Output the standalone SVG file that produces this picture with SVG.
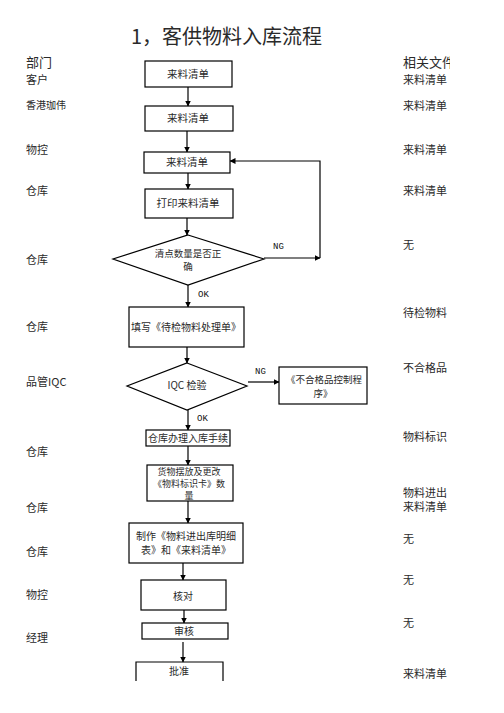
<svg xmlns="http://www.w3.org/2000/svg" width="504" height="713" viewBox="0 0 504 713">
<style>
text{font-family:"Noto Sans CJK SC","Liberation Serif",serif;fill:#2a2a2a;}
.lbl{font-size:11px;}
.hd{font-size:13px;}
.sm{font-size:10px;}
.nt{font-size:10.5px;text-anchor:middle;}
.tag{font-family:"Liberation Mono",monospace;font-size:9px;fill:#111;}
.box{fill:#fff;stroke:#000;stroke-width:1.2;}
.ln{fill:none;stroke:#000;stroke-width:1.2;}
</style>
<defs>
<marker id="ah" markerWidth="6" markerHeight="6" refX="5.5" refY="3" orient="auto" markerUnits="userSpaceOnUse">
<path d="M0,0 L6,3 L0,6 z" fill="#000"/>
</marker>
<clipPath id="rc"><rect x="395" y="40" width="55" height="660"/></clipPath>
</defs>
<rect width="504" height="713" fill="#fff"/>
<text x="131" y="44" style="font-size:20px">1，客供物料入库流程</text>
<g id="dept">
<text class="hd" x="26" y="67">部门</text>
<text class="lbl" x="26" y="84">客户</text>
<text class="sm" x="26" y="109">香港珈伟</text>
<text class="lbl" x="26" y="154">物控</text>
<text class="lbl" x="26" y="195">仓库</text>
<text class="lbl" x="26" y="264">仓库</text>
<text class="lbl" x="26" y="331">仓库</text>
<text class="lbl" x="26" y="386">品管IQC</text>
<text class="lbl" x="26" y="456">仓库</text>
<text class="lbl" x="26" y="512">仓库</text>
<text class="lbl" x="26" y="556">仓库</text>
<text class="lbl" x="26" y="599">物控</text>
<text class="lbl" x="26" y="642">经理</text>
</g>
<g id="docs" clip-path="url(#rc)">
<text class="hd" x="403" y="67">相关文件</text>
<text class="lbl" x="403" y="84">来料清单</text>
<text class="lbl" x="403" y="110">来料清单</text>
<text class="lbl" x="403" y="154">来料清单</text>
<text class="lbl" x="403" y="195">来料清单</text>
<text class="lbl" x="403" y="249">无</text>
<text class="lbl" x="403" y="317">待检物料</text>
<text class="lbl" x="403" y="372">不合格品</text>
<text class="lbl" x="403" y="441">物料标识</text>
<text class="lbl"><tspan x="403" y="497">物料进出</tspan><tspan x="403" y="511">来料清单</tspan></text>
<text class="lbl" x="403" y="543">无</text>
<text class="lbl" x="403" y="584">无</text>
<text class="lbl" x="403" y="627">无</text>
<text class="lbl" x="403" y="678">来料清单</text>
</g>
<g id="connectors">
<line class="ln" x1="188" y1="87" x2="188" y2="106" marker-end="url(#ah)"/>
<line class="ln" x1="187" y1="131" x2="187" y2="152" marker-end="url(#ah)"/>
<line class="ln" x1="188" y1="173" x2="188" y2="189" marker-end="url(#ah)"/>
<line class="ln" x1="187" y1="218" x2="187" y2="235" marker-end="url(#ah)"/>
<line class="ln" x1="264" y1="258" x2="320" y2="258" marker-end="url(#ah)"/>
<polyline class="ln" points="320,258 320,161 230,161" marker-end="url(#ah)"/>
<line class="ln" x1="188" y1="285" x2="188" y2="307" marker-end="url(#ah)"/>
<line class="ln" x1="187" y1="347" x2="187" y2="363" marker-end="url(#ah)"/>
<line class="ln" x1="248" y1="382" x2="279" y2="382" marker-end="url(#ah)"/>
<line class="ln" x1="188" y1="410" x2="188" y2="430" marker-end="url(#ah)"/>
<line class="ln" x1="188" y1="446" x2="188" y2="465" marker-end="url(#ah)"/>
<line class="ln" x1="188" y1="501" x2="188" y2="523" marker-end="url(#ah)"/>
<line class="ln" x1="183" y1="563" x2="183" y2="580" marker-end="url(#ah)"/>
<line class="ln" x1="184" y1="605" x2="184" y2="623" marker-end="url(#ah)"/>
<line class="ln" x1="183" y1="642" x2="183" y2="662" marker-end="url(#ah)"/>
<text class="tag" x="273" y="249">NG</text>
<text class="tag" x="198" y="297">OK</text>
<text class="tag" x="255" y="374">NG</text>
<text class="tag" x="197" y="421">OK</text>
</g>
<g id="n1"><rect class="box" x="145" y="61" width="87" height="26"/><text class="nt" x="188" y="78">来料清单</text></g>
<g id="n2"><rect class="box" x="145" y="106" width="88" height="25"/><text class="nt" x="188" y="122">来料清单</text></g>
<g id="n3"><rect class="box" x="144" y="152" width="86" height="21"/><text class="nt" x="187" y="166">来料清单</text></g>
<g id="n4"><rect class="box" x="145" y="189" width="88" height="29"/><text class="nt" x="188" y="207">打印来料清单</text></g>
<g id="n5"><polygon class="box" points="188,235 264,259 188,285 113,259"/><text class="nt" style="font-size:9.5px"><tspan x="188" y="257">清点数量是否正</tspan><tspan x="188" y="270">确</tspan></text></g>
<g id="n6"><rect class="box" x="129" y="307" width="115" height="40"/><text class="nt" x="186" y="331" style="font-size:10px">填写《待检物料处理单》</text></g>
<g id="n7"><polygon class="box" points="187,363 247,386 187,410 127,386"/><text class="nt" x="187" y="389" style="font-size:10px">IQC 检验</text></g>
<g id="n8"><rect class="box" x="279" y="367" width="88" height="37"/><text class="nt" style="font-size:9.5px"><tspan x="324" y="383">《不合格品控制程</tspan><tspan x="323" y="397">序》</tspan></text></g>
<g id="n9"><rect class="box" x="146" y="430" width="84" height="16"/><text class="nt" x="188" y="442" style="font-size:10px">仓库办理入库手续</text></g>
<g id="n10"><rect class="box" x="147" y="465" width="86" height="36"/><text class="nt" style="font-size:9px"><tspan x="189" y="474.5">货物摆放及更改</tspan><tspan x="189" y="487">《物料标识卡》数</tspan><tspan x="189" y="499">量</tspan></text></g>
<g id="n11"><rect class="box" x="129" y="523" width="114" height="40"/><text class="nt" style="font-size:10px"><tspan x="186" y="540">制作《物料进出库明细</tspan><tspan x="186" y="554">表》和《来料清单》</tspan></text></g>
<g id="n12"><rect class="box" x="141" y="580" width="85" height="30"/><text class="nt" x="183" y="600" style="font-size:10px">核对</text></g>
<g id="n13"><rect class="box" x="142" y="623" width="86" height="16"/><text class="nt" x="184" y="635" style="font-size:10px">审核</text></g>
<g id="n14"><path class="ln" d="M136,681 L136,662 L223,662 L223,681"/><text class="nt" x="179" y="675" style="font-size:10px">批准</text></g>
</svg>
